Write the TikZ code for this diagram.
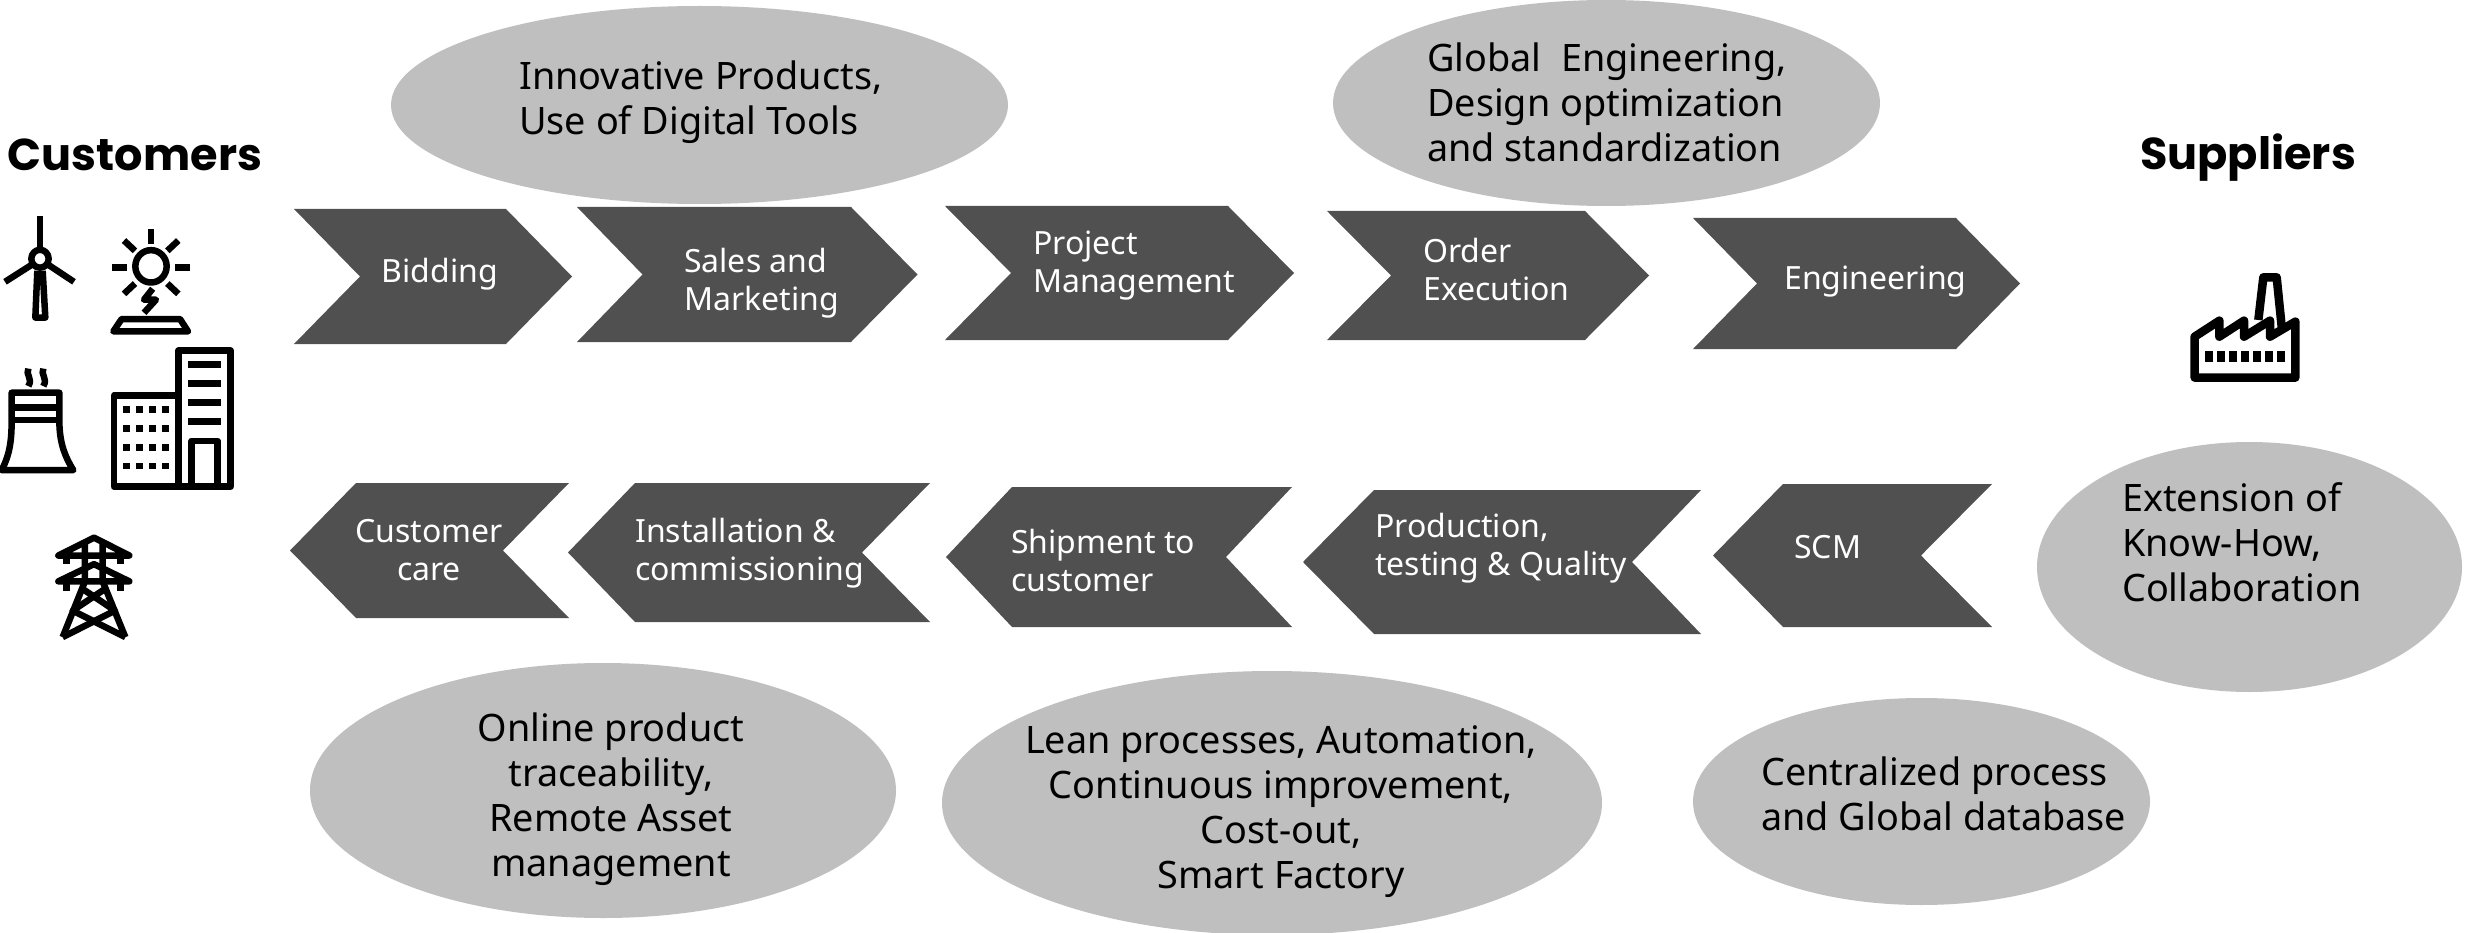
\documentclass[tikz,border=0pt]{standalone}
\usepackage{fontspec}
\usetikzlibrary{shapes.geometric}
\setmainfont{Noto Sans}
\newfontfamily\headfont{Poppins}
\definecolor{chev}{HTML}{505050}
\definecolor{oval}{HTML}{BFBFBF}
\tikzset{
  ovalshape/.style={ellipse,fill=oval,draw=none,inner sep=0pt,outer sep=0pt},
  bigtext/.style={inner sep=0pt,text=black,font=\fontsize{37.8}{45}\selectfont},
  chevtext/.style={inner sep=0pt,text=white,font=\fontsize{32}{38}\selectfont},
  headtext/.style={inner sep=0pt,text=black,font=\headfont\fontsize{44.6}{50}\selectfont\bfseries},
  chevfill/.style={fill=chev,draw=none},
  icon/.style={draw=black,line width=6.5pt,line join=round,fill=none},
  iconfill/.style={fill=black,draw=none},
}
% right-pointing: left, notch, shoulder, tip, top, bottom
\newcommand{\chevR}[6]{\fill[chevfill] (#1,#5) -- (#3,#5) -- (#4,{(#5+#6)/2}) -- (#3,#6) -- (#1,#6) -- (#2,{(#5+#6)/2}) -- cycle;}
% left-pointing: tip, shoulder, notch, right, top, bottom
\newcommand{\chevL}[6]{\fill[chevfill] (#1,{(#5+#6)/2}) -- (#2,#5) -- (#4,#5) -- (#3,{(#5+#6)/2}) -- (#4,#6) -- (#2,#6) -- cycle;}
\begin{document}
\begin{tikzpicture}[x=1pt,y=-1pt]
\clip (0,0) rectangle (2465,933);
\fill[white] (0,0) rectangle (2465,933);
% ovals
\node[ovalshape,minimum width=617pt,minimum height=198pt] (o1) at (699.5,105) {};
\node[ovalshape,minimum width=547pt,minimum height=206pt] (o2) at (1606.5,103) {};
\node[ovalshape,minimum width=425pt,minimum height=250pt] (o3) at (2249.5,567) {};
\node[ovalshape,minimum width=586pt,minimum height=255pt] (o4) at (603,790.5) {};
\node[ovalshape,minimum width=660pt,minimum height=264pt] (o5) at (1272,803) {};
\node[ovalshape,minimum width=457pt,minimum height=207pt] (o6) at (1921.5,801.5) {};
\node[bigtext,anchor=west,align=left] (t1) at (519,102) {Innovative Products,\\Use of Digital Tools};
\node[bigtext,anchor=west,align=left] (t2) at (1427,102) {Global\ \ Engineering,\\Design optimization\\and standardization};
\node[bigtext,anchor=west,align=left] (t3) at (2122,542) {Extension of\\Know-How,\\Collaboration};
\node[bigtext,align=center] (t4) at (611,799) {Online product\\traceability,\\Remote Asset\\management};
\node[bigtext,align=center] (t5) at (1281,812) {Lean processes, Automation,\\Continuous improvement,\\Cost-out,\\Smart Factory};
\node[bigtext,anchor=west,align=left] (t6) at (1761,794) {Centralized process\\and Global database};
% chevrons
\chevR{294}{360}{506}{572}{209}{344}
\chevR{577}{642.5}{851}{917.5}{207}{342}
\chevR{945}{1011}{1228}{1294}{206}{340}
\chevR{1327}{1391}{1585}{1649}{211}{340}
\chevR{1693}{1757}{1956}{2020}{218}{349}
\chevL{290}{356}{503}{569}{483}{618}
\chevL{568}{635}{862}{930}{483}{622}
\chevL{946}{1012}{1226}{1292}{487}{627}
\chevL{1303}{1374}{1632}{1701}{490}{634}
\chevL{1713}{1783}{1921}{1992}{484}{627}
\node[chevtext] (c1) at (440,274) {Bidding};
\node[chevtext,anchor=west,align=left] (c2) at (684,283) {Sales and\\Marketing};
\node[chevtext,anchor=west,align=left] (c3) at (1033,266) {Project\\Management};
\node[chevtext,anchor=west,align=left] (c4) at (1423,270) {Order\\Execution};
\node[chevtext,anchor=west] (c5) at (1784,282) {Engineering};
\node[chevtext,align=center] (c6) at (429,550) {Customer\\care};
\node[chevtext,anchor=west,align=left] (c7) at (635,553) {Installation \&\\commissioning};
\node[chevtext,anchor=west,align=left] (c8) at (1011,560) {Shipment to\\customer};
\node[chevtext,anchor=west,align=left] (c9) at (1375,548) {Production,\\testing \& Quality};
\node[chevtext,anchor=west] (c10) at (1794,547) {SCM};
% headings
\node[headtext] (h1) at (135,155) {Customers};
\node[headtext] (h2) at (2248,158) {Suppliers};
% customer icons (zoom coordinates)
\begin{scope}[shift={(0,120)},x=0.33333pt,y=-0.3443pt]
  % wind turbine
  \draw[icon] (120,278) -- (120,375);
  \draw[icon] (120,403) circle (26);
  \draw[icon] (15,470) -- (96,420);
  \draw[icon] (222,470) -- (144,420);
  \draw[icon] (112,438) -- (106,574) -- (136,574) -- (128,438);
  % sun
  \draw[icon] (453,425) circle (47);
  \draw[icon] (453,318) -- (453,360);
  \draw[icon] (337,428) -- (382,428);
  \draw[icon] (525,428) -- (570,428);
  \draw[icon] (372,350) -- (405,380);
  \draw[icon] (535,350) -- (502,380);
  \draw[icon] (372,505) -- (405,475);
  \draw[icon] (535,505) -- (502,475);
  \draw[icon] (458,490) -- (432,522) -- (468,522) -- (432,560);
  \draw[icon] (365,578) -- (540,578) -- (564,614) -- (340,614) -- cycle;
  % cooling tower
  \draw[icon] (35,1017) -- (5,1017) .. controls (30,970) and (35,930) .. (35,870) -- (35,792) -- (178,792) -- (178,870) .. controls (178,930) and (190,970) .. (220,1017) -- cycle;
  \draw[icon] (35,835) -- (178,835);
  \draw[icon] (35,872) -- (178,872);
  \draw[icon] (85,722) .. controls (75,740) and (100,750) .. (85,773);
  \draw[icon] (130,722) .. controls (120,740) and (145,750) .. (130,773);
  % buildings
  \draw[icon] (342,800) rectangle (535,1065);
  \draw[icon] (535,670) rectangle (692,1065);
  \draw[icon] (575,1065) -- (575,932) -- (653,932) -- (653,1065);
  \foreach \yy in {700,755,810,865} {\fill[iconfill] (564,\yy) rectangle (663,\yy+20);}
  \foreach \xx in {369,408,447,486} {\foreach \yy in {830,885,940,995} {\fill[iconfill] (\xx,\yy) rectangle (\xx+20,\yy+20);}}
  % pylon
  \draw[icon] (175,1265) -- (282,1213) -- (388,1265) -- cycle;
  \draw[icon] (175,1340) -- (282,1290) -- (388,1340) -- cycle;
  \draw[icon] (200,1265) -- (200,1290);
  \draw[icon] (362,1265) -- (362,1290);
  \draw[icon] (200,1340) -- (200,1368);
  \draw[icon] (362,1340) -- (362,1368);
  \draw[icon] (255,1225) -- (255,1340) -- (188,1502);
  \draw[icon] (308,1225) -- (308,1340) -- (376,1502);
  \draw[icon] (248,1362) -- (345,1425) -- (188,1502);
  \draw[icon] (315,1362) -- (218,1425) -- (376,1502);
\end{scope}
% factory
\begin{scope}[shift={(2100,110)},x=0.33333pt,y=-0.33333pt]
  \begin{scope}[icon/.append style={line width=8.5pt}]
  \draw[icon] (284,680) -- (358,632) -- (358,680) -- (432,632) -- (432,680) -- (510,632) -- (510,680) -- (586,635) -- (586,803) -- (284,803) -- cycle;
  \draw[icon] (475,630) -- (490,502) -- (530,502) -- (545,650);
  \end{scope}
  \foreach \xx in {315,351,387,423,459,495,531} {\fill[iconfill] (\xx,722) rectangle (\xx+24,755);}
\end{scope}
\end{tikzpicture}
\end{document}
